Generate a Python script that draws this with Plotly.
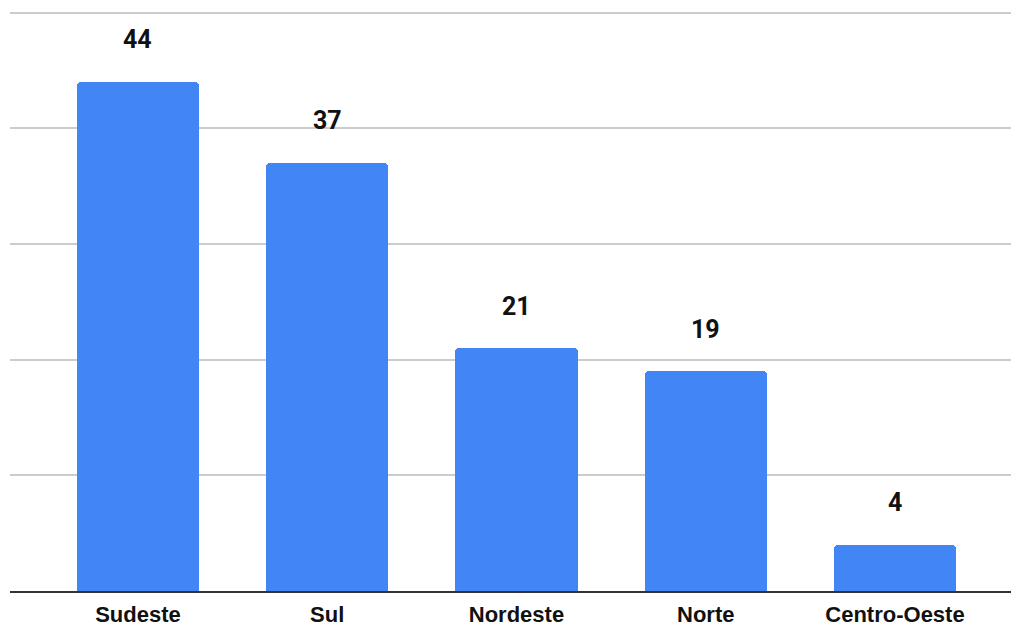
import plotly.graph_objects as go

categories = ["Sudeste", "Sul", "Nordeste", "Norte", "Centro-Oeste"]
values = [44, 37, 21, 19, 4]
label_texts = [str(v) for v in values]

fig = go.Figure()
fig.add_trace(go.Bar(
    x=categories, y=values,
    marker=dict(color="#4285F4", cornerradius=4, line=dict(width=0)),
    width=0.645,
    hoverinfo="skip",
))

for c, v, t in zip(categories, values, label_texts):
    fig.add_annotation(x=c, y=v, text=f"<b>{t}</b>", showarrow=False,
                       yanchor="middle", yshift=42,
                       font=dict(family="Roboto", size=25, color="#111111"))

fig.update_layout(
    width=1011, height=626,
    margin=dict(l=10, r=0, t=11, b=35, pad=0),
    paper_bgcolor="white", plot_bgcolor="white",
    showlegend=False,
    font=dict(family="Roboto", color="#111111"),
    bargap=0,
    xaxis=dict(
        range=[-0.676, 4.613], automargin=False,
        showgrid=False, zeroline=False,
        showline=True, linecolor="#333333", linewidth=1.5,
        ticks="", ticklabelstandoff=3,
        tickfont=dict(family="Liberation Sans", size=22, color="#111111", weight="bold"),
        fixedrange=True,
    ),
    yaxis=dict(
        range=[0, 50.13], dtick=10, tick0=0, automargin=False,
        showgrid=True, gridcolor="#cccccc", gridwidth=1.5,
        showticklabels=False, zeroline=False, showline=False,
        fixedrange=True,
    ),
)

fig.write_html("out.html")
